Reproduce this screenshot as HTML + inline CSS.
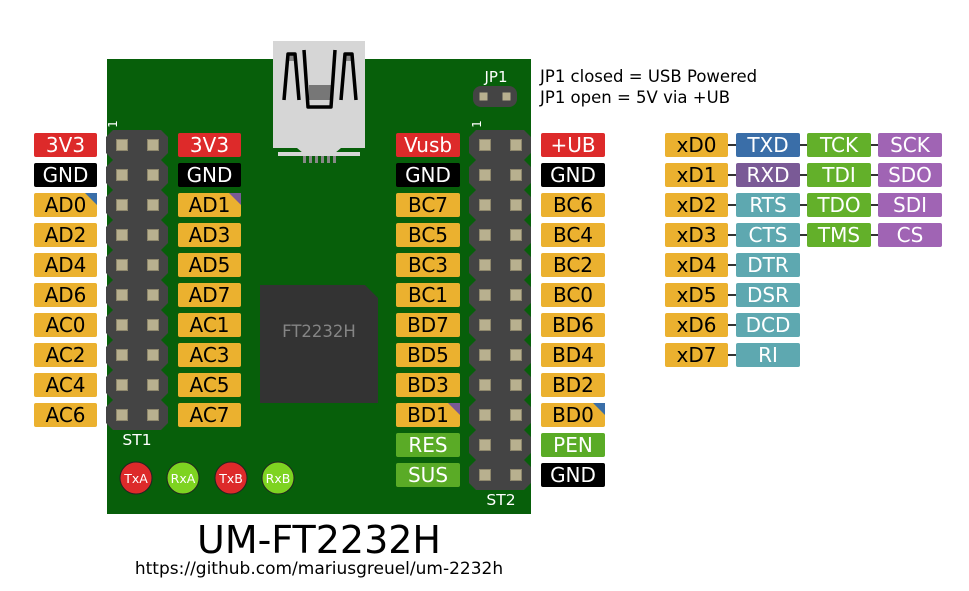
<!DOCTYPE html>
<html><head><meta charset="utf-8"><style>
html,body{margin:0;padding:0;background:#fff;}
svg{display:block;font-family:"DejaVu Sans","Liberation Sans",sans-serif;}
</style></head><body>
<svg width="969" height="591" viewBox="0 0 969 591" xmlns="http://www.w3.org/2000/svg">
<defs>
<g id="hdr">
<polygon points="7,0 55,0 62,7 62,23 55,30 7,30 0,23 0,7" fill="#444"/>
<rect x="10.5" y="9.5" width="11" height="11" fill="#b8b08f" stroke="#8e876c" stroke-width="1"/>
<rect x="41.5" y="9.5" width="11" height="11" fill="#b8b08f" stroke="#8e876c" stroke-width="1"/>
</g>
</defs>
<rect x="107" y="59" width="424" height="455" fill="#075f0a"/>
<polygon points="273,41 365,41 365,148 341,148 335,153 303,153 297,148 273,148" fill="#d6d6d6"/>
<rect x="278" y="152" width="82" height="4" fill="#d6d6d6"/>
<g fill="#888"><rect x="303" y="156" width="3" height="7"/><rect x="309" y="156" width="3" height="7"/><rect x="315" y="156" width="3" height="7"/><rect x="321" y="156" width="3" height="7"/><rect x="327" y="156" width="3" height="7"/><rect x="333" y="156" width="3" height="7"/></g>
<rect x="309" y="85" width="22" height="15" fill="#777"/>
<rect x="288" y="55" width="6" height="6" fill="#888"/>
<rect x="345" y="55" width="6" height="6" fill="#888"/>
<g fill="none" stroke="#000" stroke-width="3.5" stroke-linejoin="round">
<polyline points="284,100 288,54 295,54 299,100"/>
<polyline points="304,50 308,107 331,107 335,50"/>
<polyline points="341,100 345,54 352,54 356,100"/>
</g>
<text x="496" y="82" font-size="15" fill="#fff" text-anchor="middle">JP1</text>
<rect x="473" y="86" width="44" height="21" rx="8" fill="#444"/>
<rect x="479.5" y="92.5" width="8" height="8" fill="#b8b08f"/>
<rect x="502.5" y="92.5" width="8" height="8" fill="#b8b08f"/>
<text x="540" y="82" font-size="16.5" fill="#000">JP1 closed = USB Powered</text>
<text x="540" y="103" font-size="16.5" fill="#000">JP1 open = 5V via +UB</text>
<g>
<use href="#hdr" x="106" y="130"/><use href="#hdr" x="106" y="160"/><use href="#hdr" x="106" y="190"/><use href="#hdr" x="106" y="220"/><use href="#hdr" x="106" y="250"/>
<use href="#hdr" x="106" y="280"/><use href="#hdr" x="106" y="310"/><use href="#hdr" x="106" y="340"/><use href="#hdr" x="106" y="370"/><use href="#hdr" x="106" y="400"/>
</g>
<g>
<use href="#hdr" x="469" y="130"/><use href="#hdr" x="469" y="160"/><use href="#hdr" x="469" y="190"/><use href="#hdr" x="469" y="220"/><use href="#hdr" x="469" y="250"/><use href="#hdr" x="469" y="280"/>
<use href="#hdr" x="469" y="310"/><use href="#hdr" x="469" y="340"/><use href="#hdr" x="469" y="370"/><use href="#hdr" x="469" y="400"/><use href="#hdr" x="469" y="430"/><use href="#hdr" x="469" y="460"/>
</g>
<text font-size="12" fill="#fff" transform="translate(117,124) rotate(-90)" text-anchor="middle">1</text>
<text font-size="12" fill="#fff" transform="translate(481,124) rotate(-90)" text-anchor="middle">1</text>
<text x="137" y="445" font-size="15.5" fill="#fff" text-anchor="middle">ST1</text>
<text x="501" y="505" font-size="15.5" fill="#fff" text-anchor="middle">ST2</text>
<polygon points="260,285 365,285 378,298 378,403 260,403" fill="#333"/>
<text x="319" y="337" font-size="16.5" fill="#858585" text-anchor="middle">FT2232H</text>
<g stroke="#222" stroke-width="1">
<circle cx="136" cy="478" r="16" fill="#dd2a2a"/><circle cx="183" cy="478" r="16" fill="#7ed321"/>
<circle cx="231" cy="478" r="16" fill="#dd2a2a"/><circle cx="278" cy="478" r="16" fill="#7ed321"/>
</g>
<g font-size="12.5" fill="#fff" text-anchor="middle">
<text x="136" y="483">TxA</text><text x="183" y="483">RxA</text><text x="231" y="483">TxB</text><text x="278" y="483">RxB</text>
</g>
<g font-size="20" text-anchor="middle">
<rect x="34" y="133" width="63" height="24" rx="2" fill="#dd2a2a"/><text x="65.5" y="152" fill="#fff">3V3</text>
<rect x="34" y="163" width="63" height="24" rx="2" fill="#000"/><text x="65.5" y="182" fill="#fff">GND</text>
<rect x="34" y="193" width="63" height="24" rx="2" fill="#ebb12f"/><text x="65.5" y="212">AD0</text>
<polygon points="85,193 97,193 97,205" fill="#3a6ea8"/>
<rect x="34" y="223" width="63" height="24" rx="2" fill="#ebb12f"/><text x="65.5" y="242">AD2</text>
<rect x="34" y="253" width="63" height="24" rx="2" fill="#ebb12f"/><text x="65.5" y="272">AD4</text>
<rect x="34" y="283" width="63" height="24" rx="2" fill="#ebb12f"/><text x="65.5" y="302">AD6</text>
<rect x="34" y="313" width="63" height="24" rx="2" fill="#ebb12f"/><text x="65.5" y="332">AC0</text>
<rect x="34" y="343" width="63" height="24" rx="2" fill="#ebb12f"/><text x="65.5" y="362">AC2</text>
<rect x="34" y="373" width="63" height="24" rx="2" fill="#ebb12f"/><text x="65.5" y="392">AC4</text>
<rect x="34" y="403" width="63" height="24" rx="2" fill="#ebb12f"/><text x="65.5" y="422">AC6</text>
<rect x="178" y="133" width="63" height="24" rx="2" fill="#dd2a2a"/><text x="209.5" y="152" fill="#fff">3V3</text>
<rect x="178" y="163" width="63" height="24" rx="2" fill="#000"/><text x="209.5" y="182" fill="#fff">GND</text>
<rect x="178" y="193" width="63" height="24" rx="2" fill="#ebb12f"/><text x="209.5" y="212">AD1</text>
<polygon points="229,193 241,193 241,205" fill="#7a5a96"/>
<rect x="178" y="223" width="63" height="24" rx="2" fill="#ebb12f"/><text x="209.5" y="242">AD3</text>
<rect x="178" y="253" width="63" height="24" rx="2" fill="#ebb12f"/><text x="209.5" y="272">AD5</text>
<rect x="178" y="283" width="63" height="24" rx="2" fill="#ebb12f"/><text x="209.5" y="302">AD7</text>
<rect x="178" y="313" width="63" height="24" rx="2" fill="#ebb12f"/><text x="209.5" y="332">AC1</text>
<rect x="178" y="343" width="63" height="24" rx="2" fill="#ebb12f"/><text x="209.5" y="362">AC3</text>
<rect x="178" y="373" width="63" height="24" rx="2" fill="#ebb12f"/><text x="209.5" y="392">AC5</text>
<rect x="178" y="403" width="63" height="24" rx="2" fill="#ebb12f"/><text x="209.5" y="422">AC7</text>
<rect x="396" y="133" width="64" height="24" rx="2" fill="#dd2a2a"/><text x="428" y="152" fill="#fff">Vusb</text>
<rect x="396" y="163" width="64" height="24" rx="2" fill="#000"/><text x="428" y="182" fill="#fff">GND</text>
<rect x="396" y="193" width="64" height="24" rx="2" fill="#ebb12f"/><text x="428" y="212">BC7</text>
<rect x="396" y="223" width="64" height="24" rx="2" fill="#ebb12f"/><text x="428" y="242">BC5</text>
<rect x="396" y="253" width="64" height="24" rx="2" fill="#ebb12f"/><text x="428" y="272">BC3</text>
<rect x="396" y="283" width="64" height="24" rx="2" fill="#ebb12f"/><text x="428" y="302">BC1</text>
<rect x="396" y="313" width="64" height="24" rx="2" fill="#ebb12f"/><text x="428" y="332">BD7</text>
<rect x="396" y="343" width="64" height="24" rx="2" fill="#ebb12f"/><text x="428" y="362">BD5</text>
<rect x="396" y="373" width="64" height="24" rx="2" fill="#ebb12f"/><text x="428" y="392">BD3</text>
<rect x="396" y="403" width="64" height="24" rx="2" fill="#ebb12f"/><text x="428" y="422">BD1</text>
<polygon points="448,403 460,403 460,415" fill="#7a5a96"/>
<rect x="396" y="433" width="64" height="24" rx="2" fill="#5aab26"/><text x="428" y="452" fill="#fff">RES</text>
<rect x="396" y="463" width="64" height="24" rx="2" fill="#5aab26"/><text x="428" y="482" fill="#fff">SUS</text>
<rect x="541" y="133" width="64" height="24" rx="2" fill="#dd2a2a"/><text x="573" y="152" fill="#fff">+UB</text>
<rect x="541" y="163" width="64" height="24" rx="2" fill="#000"/><text x="573" y="182" fill="#fff">GND</text>
<rect x="541" y="193" width="64" height="24" rx="2" fill="#ebb12f"/><text x="573" y="212">BC6</text>
<rect x="541" y="223" width="64" height="24" rx="2" fill="#ebb12f"/><text x="573" y="242">BC4</text>
<rect x="541" y="253" width="64" height="24" rx="2" fill="#ebb12f"/><text x="573" y="272">BC2</text>
<rect x="541" y="283" width="64" height="24" rx="2" fill="#ebb12f"/><text x="573" y="302">BC0</text>
<rect x="541" y="313" width="64" height="24" rx="2" fill="#ebb12f"/><text x="573" y="332">BD6</text>
<rect x="541" y="343" width="64" height="24" rx="2" fill="#ebb12f"/><text x="573" y="362">BD4</text>
<rect x="541" y="373" width="64" height="24" rx="2" fill="#ebb12f"/><text x="573" y="392">BD2</text>
<rect x="541" y="403" width="64" height="24" rx="2" fill="#ebb12f"/><text x="573" y="422">BD0</text>
<polygon points="593,403 605,403 605,415" fill="#3a6ea8"/>
<rect x="541" y="433" width="64" height="24" rx="2" fill="#5aab26"/><text x="573" y="452" fill="#fff">PEN</text>
<rect x="541" y="463" width="64" height="24" rx="2" fill="#000"/><text x="573" y="482" fill="#fff">GND</text>
</g>
<g stroke="#333" stroke-width="2">
<line x1="728" y1="145" x2="878" y2="145"/><line x1="728" y1="175" x2="878" y2="175"/>
<line x1="728" y1="205" x2="878" y2="205"/><line x1="728" y1="235" x2="878" y2="235"/>
<line x1="728" y1="265" x2="736" y2="265"/><line x1="728" y1="295" x2="736" y2="295"/>
<line x1="728" y1="325" x2="736" y2="325"/><line x1="728" y1="355" x2="736" y2="355"/>
</g>
<g font-size="20" text-anchor="middle">
<rect x="665" y="133" width="63" height="24" rx="2" fill="#ebb12f"/><text x="696.5" y="152">xD0</text>
<rect x="665" y="163" width="63" height="24" rx="2" fill="#ebb12f"/><text x="696.5" y="182">xD1</text>
<rect x="665" y="193" width="63" height="24" rx="2" fill="#ebb12f"/><text x="696.5" y="212">xD2</text>
<rect x="665" y="223" width="63" height="24" rx="2" fill="#ebb12f"/><text x="696.5" y="242">xD3</text>
<rect x="665" y="253" width="63" height="24" rx="2" fill="#ebb12f"/><text x="696.5" y="272">xD4</text>
<rect x="665" y="283" width="63" height="24" rx="2" fill="#ebb12f"/><text x="696.5" y="302">xD5</text>
<rect x="665" y="313" width="63" height="24" rx="2" fill="#ebb12f"/><text x="696.5" y="332">xD6</text>
<rect x="665" y="343" width="63" height="24" rx="2" fill="#ebb12f"/><text x="696.5" y="362">xD7</text>
<g fill="#fff">
<rect x="736" y="133" width="64" height="24" rx="2" fill="#3a6ea8"/><text x="768" y="152">TXD</text>
<rect x="736" y="163" width="64" height="24" rx="2" fill="#7a5a96"/><text x="768" y="182">RXD</text>
<rect x="736" y="193" width="64" height="24" rx="2" fill="#5ea8b0"/><text x="768" y="212">RTS</text>
<rect x="736" y="223" width="64" height="24" rx="2" fill="#5ea8b0"/><text x="768" y="242">CTS</text>
<rect x="736" y="253" width="64" height="24" rx="2" fill="#5ea8b0"/><text x="768" y="272">DTR</text>
<rect x="736" y="283" width="64" height="24" rx="2" fill="#5ea8b0"/><text x="768" y="302">DSR</text>
<rect x="736" y="313" width="64" height="24" rx="2" fill="#5ea8b0"/><text x="768" y="332">DCD</text>
<rect x="736" y="343" width="64" height="24" rx="2" fill="#5ea8b0"/><text x="768" y="362">RI</text>
<rect x="807" y="133" width="64" height="24" rx="2" fill="#63b02a"/><text x="839" y="152">TCK</text>
<rect x="807" y="163" width="64" height="24" rx="2" fill="#63b02a"/><text x="839" y="182">TDI</text>
<rect x="807" y="193" width="64" height="24" rx="2" fill="#63b02a"/><text x="839" y="212">TDO</text>
<rect x="807" y="223" width="64" height="24" rx="2" fill="#63b02a"/><text x="839" y="242">TMS</text>
<rect x="878" y="133" width="64" height="24" rx="2" fill="#a064b4"/><text x="910" y="152">SCK</text>
<rect x="878" y="163" width="64" height="24" rx="2" fill="#a064b4"/><text x="910" y="182">SDO</text>
<rect x="878" y="193" width="64" height="24" rx="2" fill="#a064b4"/><text x="910" y="212">SDI</text>
<rect x="878" y="223" width="64" height="24" rx="2" fill="#a064b4"/><text x="910" y="242">CS</text>
</g>
</g>
<text x="319" y="553" font-size="38" text-anchor="middle" fill="#000">UM-FT2232H</text>
<text x="319" y="574" font-size="17" text-anchor="middle" fill="#000">https://github.com/mariusgreuel/um-2232h</text>
</svg>
</body></html>
